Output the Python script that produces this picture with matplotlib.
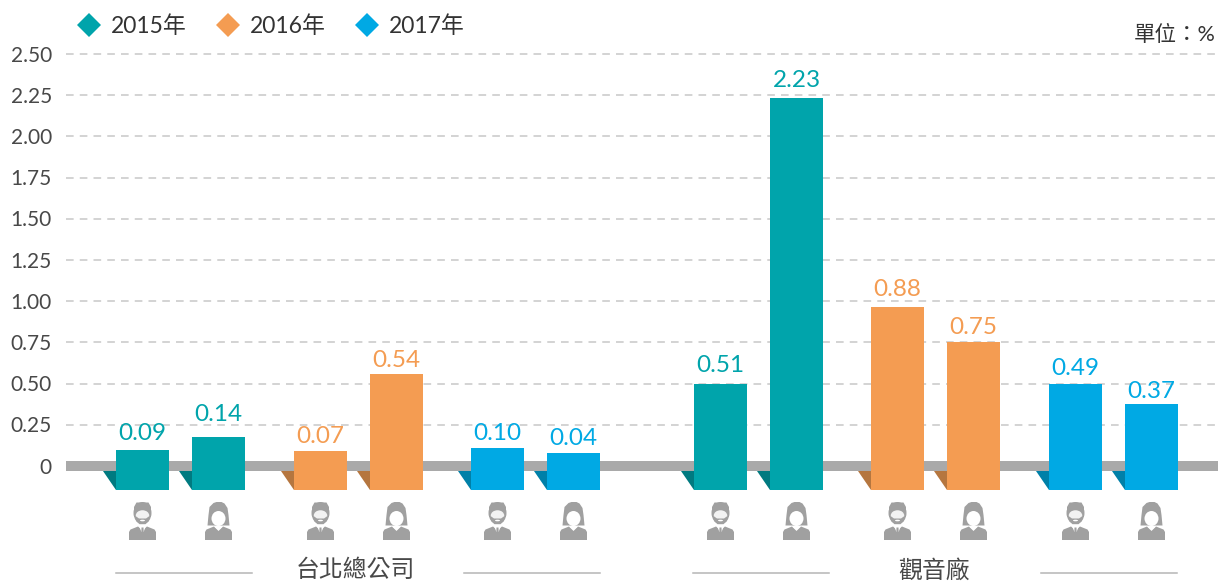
import matplotlib
matplotlib.use('Agg')
import matplotlib.pyplot as plt
from matplotlib.patches import Polygon, Ellipse

plt.rcParams['font.family'] = ['Lato', 'Noto Sans CJK TC', 'DejaVu Sans']

years = ['2015年', '2016年', '2017年']
colors = ['#00a4ab', '#f49c52', '#00a9e4']
dark_colors = ['#007a80', '#b5763f', '#0080a8']

# bar heights as drawn (they do not always agree with the printed labels)
taipei_heights = [0.10, 0.175, 0.09, 0.56, 0.11, 0.08]
guanyin_heights = [0.50, 2.235, 0.965, 0.75, 0.495, 0.375]
taipei_labels = ['0.09', '0.14', '0.07', '0.54', '0.10', '0.04']
guanyin_labels = ['0.51', '2.23', '0.88', '0.75', '0.49', '0.37']
y_ticks = [0, 0.25, 0.5, 0.75, 1.0, 1.25, 1.5, 1.75, 2.0, 2.25, 2.5]
y_labels = ['0', '0.25', '0.50', '0.75', '1.00', '1.25', '1.50', '1.75', '2.00', '2.25', '2.50']
groups = ['台北總公司', '觀音廠']

heights = taipei_heights + guanyin_heights
labels = taipei_labels + guanyin_labels
bar_colors = [0, 0, 1, 1, 2, 2, 0, 0, 1, 1, 2, 2]
bar_x = [142.5, 218.5, 320.5, 396.5, 497.5, 573.5, 720.5, 796.5, 897.5, 973.5, 1075.5, 1151.5]
label_gap = [5.5, 12.5, 4.5, 3, 3.5, 3.5, 7.5, 6.5, 6.5, 4.5, 5.5, 2.5]  # px above the bar top

W, H = 1228, 586
y0_px = 466.0
per_unit = 164.8
base = -24.0 / per_unit  # bars hang below the zero band


def ypx(p):
    return (y0_px - p) / per_unit


fig = plt.figure(figsize=(W / 100, H / 100), dpi=100)
ax = fig.add_axes([0, 0, 1, 1])
ax.set_xlim(0, W)
ax.set_ylim(ypx(H), ypx(0))
ax.axis('off')

grey = '#a0a0a0'

for t, lab in zip(y_ticks, y_labels):
    if t > 0:
        ax.plot([66, 1218], [t, t], color='#c8c8c8', lw=1.1, dashes=(5, 4), zorder=1)
    ax.text(52, t - 1.5 / per_unit, lab, ha='right', va='center', fontsize=15, color='#484848')

ax.fill_between([66, 1218], ypx(471), ypx(461), color='#a9a9a9', lw=0, zorder=2)


def person(cx, female):
    # little grey bust icon, coords in pixels relative to the icon centre
    def P(dx, dy):
        return (cx + dx, ypx(521 + dy))

    def oval(dx, dy, w, h, col, z):
        ax.add_patch(Ellipse(P(dx, dy), w, h / per_unit, fc=col, ec='none', zorder=z))

    body = [P(-13.5, 19), P(-13.5, 11), P(-12, 8.5), P(-4.5, 5.5), P(0, 9), P(4.5, 5.5), P(12, 8.5), P(13.5, 11), P(13.5, 19)]
    ax.add_patch(Polygon(body, closed=True, fc=grey, ec='none', zorder=3))
    if female:
        hair = [P(-11, 4.5), P(-10, -6), P(-9, -14), P(-5, -18), P(-2, -19), P(3, -19), P(6, -17.5), P(9, -13),
                P(10, -6), P(11, 4.5), P(5, 4.5), P(-5, 4.5)]
        ax.add_patch(Polygon(hair, closed=True, fc=grey, ec='none', zorder=3))
        oval(0, -2.5, 14, 15, 'white', 4)
        ax.add_patch(Polygon([P(-7.5, -7), P(-3, -11), P(2, -11.5), P(7.5, -6), P(7.5, -13), P(-7.5, -13)],
                             closed=True, fc=grey, ec='none', zorder=5))
        ax.add_patch(Polygon([P(-4.5, 5.5), P(4.5, 5.5), P(0, 10)], closed=True, fc='white', ec='none', zorder=4))
    else:
        oval(0, -8, 18, 22, grey, 3)
        ax.add_patch(Polygon([P(-8.5, -14), P(-6, -18.5), P(6, -18.5), P(8.5, -14), P(8.5, -4), P(-8.5, -4)],
                             closed=True, fc=grey, ec='none', zorder=3))
        oval(0, -5.5, 13.5, 10.5, '#f2f2f2', 4)
        beard = [P(-7, -5), P(-3.5, -2.5), P(3.5, -2.5), P(7, -5), P(6.5, 0), P(3, 3.2), P(-3, 3.2), P(-6.5, 0)]
        ax.add_patch(Polygon(beard, closed=True, fc=grey, ec='none', zorder=5))
        oval(0, -0.5, 5, 1.6, 'white', 6)
        ax.add_patch(Polygon([P(-3.5, 5.2), P(3.5, 5.2), P(1, 11), P(-1, 11)],
                             closed=True, fc='white', ec='none', zorder=4))
        ax.add_patch(Polygon([P(-1, 6.5), P(1, 6.5), P(1.3, 15), P(0, 17), P(-1.3, 15)],
                             closed=True, fc=grey, ec='none', zorder=5))


for i, (x, h, lab, c) in enumerate(zip(bar_x, heights, labels, bar_colors)):
    left = x - 26.5
    ax.add_patch(Polygon([(left - 13.5, ypx(471)), (left + 1, ypx(471)), (left + 1, base), (left - 0.5, base)],
                         closed=True, fc=dark_colors[c], ec='none', zorder=3))
    ax.bar(x, h - base, bottom=base, width=53, color=colors[c], lw=0, zorder=4)
    ax.text(x, h + label_gap[i] / per_unit, lab, ha='center', va='bottom', fontsize=17.5, color=colors[c], zorder=5)
    person(x, i % 2 == 1)

# group captions with rules either side
for name, cx, rules in zip(groups, [355, 934],
                           [[(116, 252), (464, 600)], [(693, 829), (1041, 1177)]]):
    ax.text(cx, ypx(570), name, ha='center', va='center', fontsize=17.2, color='#484848')
    for a, b in rules:
        ax.plot([a, b], [ypx(572.5)] * 2, color='#b5b5b5', lw=1.1, zorder=2)

# legend
for name, col, mx, tx in zip(years, colors, [89, 228, 367], [111, 250, 389]):
    ax.plot(mx, ypx(25), marker='D', ms=12.5, color=col, mew=0, ls='none')
    ax.text(tx, ypx(26), name, ha='left', va='center', fontsize=16.5, color='#333333')

ax.text(1216, ypx(35), '單位：%', ha='right', va='center', fontsize=15.5, color='#333333')

fig.savefig('out.png', dpi=100)
